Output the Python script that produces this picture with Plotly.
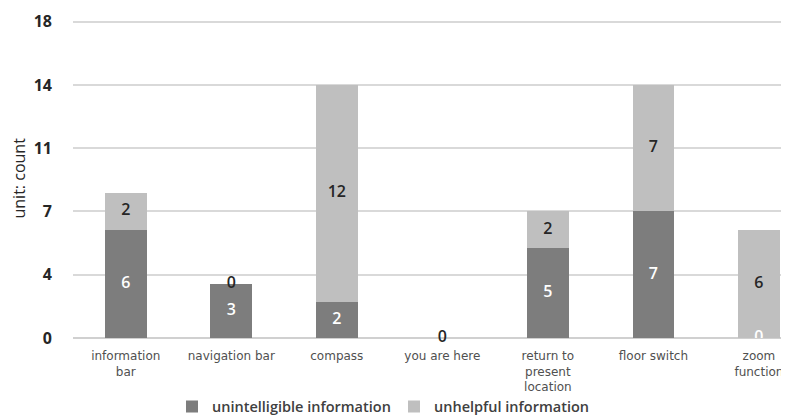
import plotly.graph_objects as go

categories = ["information<br>bar", "navigation bar", "compass", "you are here",
              "return to<br>present<br>location", "floor switch", "zoom<br>function"]
unintelligible = [6, 3, 2, 0, 5, 7, 0]
unhelpful = [2, 0, 12, 0, 2, 7, 6]
tick_vals = [0, 3.5, 7, 10.5, 14, 17.5]
tick_text = ["0", "4", "7", "11", "14", "18"]

DARK = "#7d7d7d"
LIGHT = "#bfbfbf"
FONT = "Open Sans"

x = list(range(len(categories)))
fig = go.Figure()
fig.add_trace(go.Bar(x=x, y=unintelligible, name="unintelligible information",
                     marker=dict(color=DARK, line=dict(width=0)), width=0.395))
fig.add_trace(go.Bar(x=x, y=unhelpful, name="unhelpful information",
                     marker=dict(color=LIGHT, line=dict(width=0)), width=0.395))

# segment labels
dark_y = [v / 2 for v in unintelligible]
light_y = [a + b / 2 for a, b in zip(unintelligible, unhelpful)]
dark_text = [str(a) if (a > 0 or b > 0) else "" for a, b in zip(unintelligible, unhelpful)]
fig.add_trace(go.Scatter(x=x, y=dark_y, mode="text", text=dark_text,
                         textfont=dict(family=FONT, size=16, color="white", weight=600),
                         showlegend=False, hoverinfo="skip", cliponaxis=True))
fig.add_trace(go.Scatter(x=x, y=light_y, mode="text", text=[str(v) for v in unhelpful],
                         textfont=dict(family=FONT, size=16, color="#262626", weight=600),
                         showlegend=False, hoverinfo="skip", cliponaxis=False))

fig.add_annotation(text="unit: count", textangle=-90, xref="paper", yref="paper",
                   x=(10 - 65) / 716, y=0.5, xanchor="center", yanchor="middle",
                   showarrow=False, font=dict(family=FONT, size=16, color="#262626"))

fig.update_layout(
    width=781, height=415,
    margin=dict(l=65, r=0, t=11, b=85),
    plot_bgcolor="white", paper_bgcolor="white",
    barmode="stack",
    font=dict(family=FONT, color="#404040"),
    showlegend=True,
    legend=dict(orientation="h", x=(172 - 73) / 716, xanchor="left", y=-0.215, yanchor="middle",
                bgcolor="rgba(0,0,0,0)",
                font=dict(family=FONT, size=14.5, color="#404040", weight=600),
                traceorder="normal", itemwidth=30, tracegroupgap=0,
                entrywidth=177),
    xaxis=dict(range=[-0.5, 6.285], tickvals=x, ticktext=categories, automargin=False,
               tickfont=dict(family="DejaVu Sans", size=12, color="#505050"),
               ticklabelstandoff=9,
               showgrid=False, zeroline=False, showline=False, ticks=""),
    yaxis=dict(range=[0, 17.65], tickvals=tick_vals, ticktext=tick_text, automargin=False,
               tickfont=dict(family=FONT, size=16, color="#262626", weight=700),
               showgrid=True, gridcolor="#d9d9d9", gridwidth=1.5,
               zeroline=True, zerolinecolor="#d0d0d0", zerolinewidth=1.5,
               ticklabelstandoff=20),
)

fig.write_html("out.html")
